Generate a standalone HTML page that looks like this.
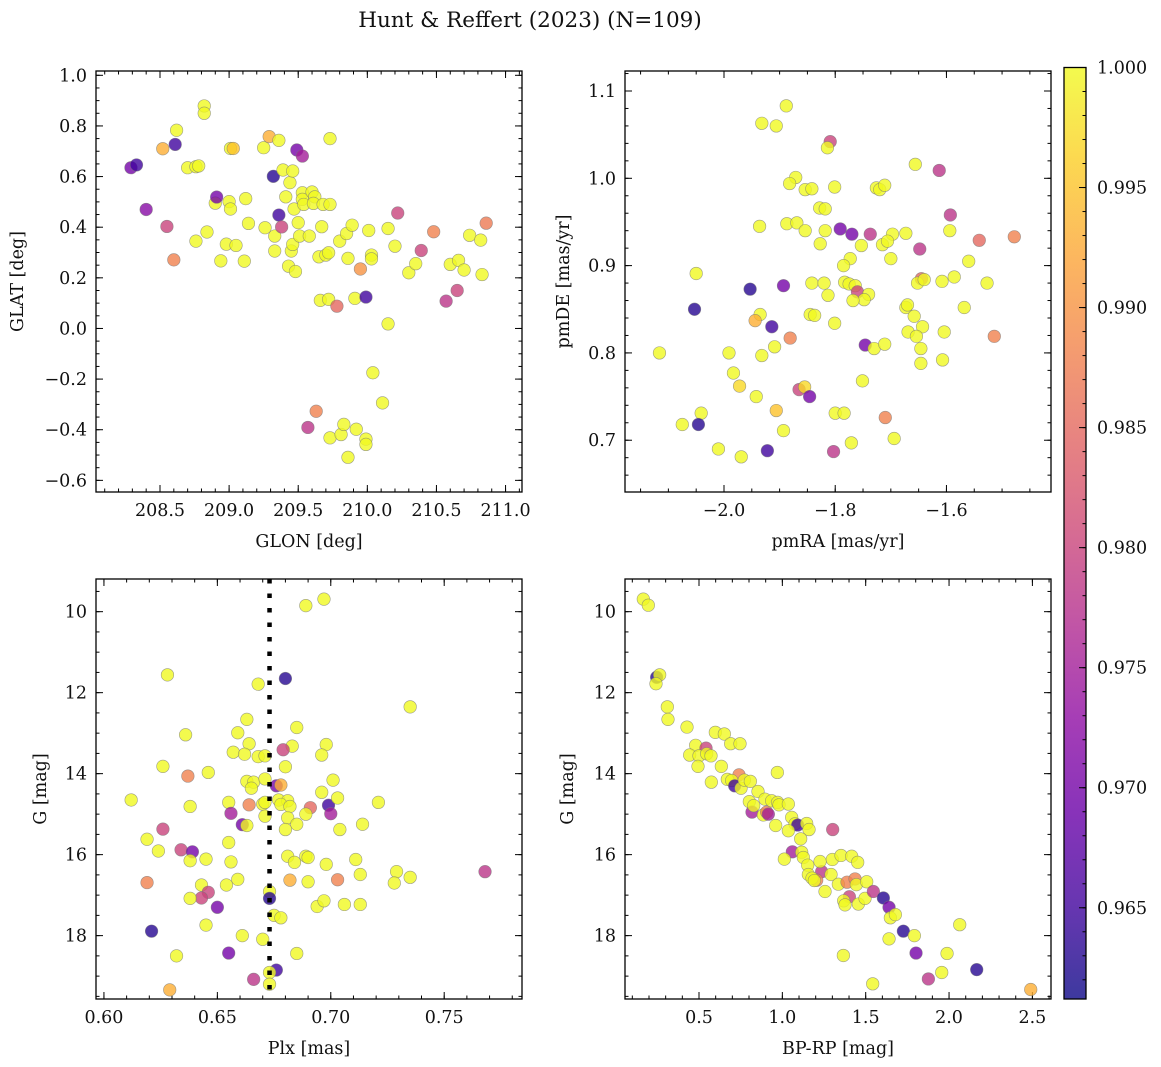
<!DOCTYPE html>
<html><head><meta charset="utf-8">
<style>
html,body{margin:0;padding:0;background:#fff;}
svg{display:block;font-family:"DejaVu Serif","Liberation Serif",serif;}
</style></head>
<body>
<svg id="fig" width="1161" height="1067" viewBox="0 0 1161 1067" xmlns="http://www.w3.org/2000/svg">
<defs>
<linearGradient id="plasmaGrad" x1="0" y1="1" x2="0" y2="0">
<stop offset="0" stop-color="#0d0887"/><stop offset="0.1" stop-color="#41049d"/><stop offset="0.2" stop-color="#6a00a8"/><stop offset="0.3" stop-color="#8f0da4"/><stop offset="0.4" stop-color="#b12a90"/><stop offset="0.5" stop-color="#cc4778"/><stop offset="0.6" stop-color="#e16462"/><stop offset="0.7" stop-color="#f2844b"/><stop offset="0.8" stop-color="#fca636"/><stop offset="0.9" stop-color="#fcce25"/><stop offset="1" stop-color="#f0f921"/>
</linearGradient>
</defs>
<text x="530" y="27" font-size="21.5" text-anchor="middle" fill="#111">Hunt &amp; Reffert (2023) (N=109)</text>
</svg>
<script>
// ---- Panel 1: GLON vs GLAT ----
const glon = [208.29,208.33,208.40,208.52,208.55,208.60,208.61,208.62,208.70,208.76,208.78,208.82,208.82,208.84,208.76,208.90,208.91,208.94,208.98,209.00,209.01,209.03,209.01,209.05,209.11,209.12,209.14,209.25,209.29,209.36,209.26,209.32,209.33,209.33,209.36,209.38,209.39,209.41,209.44,209.46,209.45,209.46,209.47,209.43,209.48,209.50,209.49,209.53,209.51,209.53,209.53,209.54,209.58,209.60,209.62,209.61,209.68,209.73,209.67,209.65,209.70,209.72,209.73,209.66,209.72,209.78,209.80,209.85,209.86,209.89,209.91,209.95,209.99,210.01,210.03,210.03,210.04,210.11,210.15,210.15,210.20,210.22,210.30,210.35,210.39,210.48,210.57,210.60,210.65,210.66,210.70,210.74,210.82,210.83,210.86,209.63,209.57,209.73,209.81,209.83,209.92,209.99,209.99,209.86];
const glat = [0.635,0.646,0.470,0.710,0.403,0.271,0.727,0.783,0.635,0.639,0.642,0.879,0.850,0.381,0.345,0.495,0.519,0.267,0.333,0.501,0.711,0.711,0.472,0.328,0.266,0.513,0.415,0.714,0.758,0.743,0.398,0.601,0.365,0.306,0.448,0.401,0.626,0.520,0.576,0.622,0.306,0.332,0.472,0.246,0.225,0.418,0.705,0.681,0.365,0.536,0.510,0.490,0.365,0.539,0.520,0.494,0.490,0.490,0.402,0.283,0.290,0.299,0.750,0.111,0.115,0.088,0.345,0.375,0.277,0.408,0.119,0.235,0.124,0.387,0.290,0.275,-0.175,-0.294,0.018,0.395,0.325,0.456,0.220,0.256,0.308,0.382,0.108,0.253,0.150,0.269,0.231,0.368,0.349,0.213,0.416,-0.327,-0.391,-0.432,-0.419,-0.379,-0.398,-0.437,-0.458,-0.509];
const prob1 = [0.970,0.965,0.972,0.993,0.980,0.988,0.965,1,1,1,1,1,1,1,1,1,0.970,1,1,1,1,0.995,1,1,1,1,1,1,0.993,1,1,0.963,1,1,0.965,0.980,1,1,1,1,1,1,1,1,1,1,0.970,0.975,1,1,1,1,1,1,1,1,1,1,1,1,1,1,1,1,1,0.985,1,1,1,1,1,0.990,0.965,1,1,1,1,1,1,1,1,0.980,1,1,0.980,0.988,0.978,1,0.980,1,1,1,1,1,0.987,0.988,0.978,1,1,1,1,1,1,1];

// ---- Panel 2: pmRA vs pmDE ----
const pmra = [-1.888,-1.932,-1.906,-1.809,-1.814,-1.656,-1.613,-1.871,-1.882,-1.854,-1.842,-1.801,-1.726,-1.720,-1.711,-1.828,-1.818,-1.593,-1.936,-1.887,-1.869,-1.854,-1.818,-1.791,-1.770,-1.737,-1.697,-1.673,-1.594,-1.541,-1.478,-1.827,-1.753,-1.715,-1.706,-1.648,-1.700,-1.773,-1.785,-1.560,-2.050,-1.953,-1.893,-1.842,-1.820,-1.783,-1.775,-1.764,-1.813,-1.760,-1.740,-1.748,-1.768,-1.645,-1.652,-1.640,-1.608,-1.586,-1.527,-2.053,-1.935,-1.944,-1.845,-1.837,-1.801,-1.673,-1.670,-1.658,-1.643,-1.568,-1.914,-1.881,-1.909,-1.932,-1.991,-2.116,-1.746,-1.730,-1.711,-1.669,-1.654,-1.604,-1.514,-1.646,-1.646,-1.607,-1.983,-1.972,-1.942,-1.865,-1.855,-1.846,-1.751,-2.041,-2.075,-2.046,-1.906,-1.893,-1.800,-1.784,-1.710,-1.694,-1.771,-2.010,-1.969,-1.922,-1.803];
const pmde = [1.083,1.063,1.060,1.042,1.035,1.016,1.009,1.001,0.994,0.987,0.988,0.990,0.989,0.987,0.992,0.966,0.965,0.958,0.945,0.948,0.949,0.940,0.940,0.942,0.936,0.936,0.936,0.937,0.940,0.929,0.933,0.925,0.923,0.924,0.928,0.919,0.908,0.908,0.900,0.905,0.891,0.873,0.877,0.880,0.880,0.881,0.879,0.877,0.866,0.870,0.867,0.861,0.860,0.885,0.880,0.884,0.882,0.887,0.880,0.850,0.844,0.837,0.844,0.843,0.834,0.852,0.855,0.842,0.830,0.852,0.830,0.817,0.807,0.797,0.800,0.800,0.809,0.805,0.810,0.824,0.819,0.824,0.819,0.805,0.788,0.792,0.777,0.762,0.750,0.758,0.761,0.750,0.768,0.731,0.718,0.718,0.734,0.711,0.731,0.731,0.726,0.702,0.697,0.690,0.681,0.688,0.687];
const prob2 = [1,1,1,0.980,1,1,0.978,1,1,1,1,1,1,1,1,1,1,0.978,1,1,1,1,1,0.970,0.970,0.978,1,1,1,0.985,0.988,1,1,1,1,0.978,1,1,1,1,1,0.963,0.970,1,1,1,1,1,1,0.980,1,1,1,0.985,1,1,1,1,1,0.963,1,0.993,1,1,1,1,1,1,1,1,0.965,0.988,1,1,1,1,0.970,1,1,1,1,1,0.988,1,1,1,1,0.997,1,0.980,0.997,0.970,1,1,1,0.963,0.995,1,1,1,0.988,1,1,1,1,0.965,0.978];

// ---- Panel 3: Plx vs G ----
const plx = [0.689,0.697,0.628,0.668,0.680,0.735,0.663,0.685,0.636,0.659,0.664,0.683,0.698,0.657,0.662,0.668,0.671,0.679,0.696,0.680,0.626,0.637,0.646,0.663,0.666,0.665,0.671,0.676,0.678,0.701,0.696,0.612,0.655,0.664,0.670,0.671,0.677,0.681,0.678,0.682,0.691,0.699,0.703,0.721,0.638,0.656,0.671,0.681,0.689,0.700,0.661,0.663,0.685,0.680,0.704,0.714,0.626,0.619,0.624,0.634,0.639,0.638,0.645,0.655,0.656,0.681,0.684,0.689,0.690,0.698,0.711,0.713,0.729,0.728,0.735,0.768,0.619,0.643,0.654,0.659,0.682,0.690,0.703,0.673,0.646,0.643,0.638,0.673,0.650,0.694,0.697,0.706,0.713,0.675,0.678,0.645,0.621,0.661,0.670,0.632,0.655,0.685,0.676,0.673,0.666,0.673,0.629];
const gmag3 = [9.85,9.69,11.56,11.79,11.65,12.35,12.66,12.86,13.04,12.99,13.26,13.32,13.28,13.47,13.52,13.58,13.56,13.41,13.54,13.83,13.82,14.06,13.97,14.19,14.21,14.36,14.13,14.30,14.28,14.16,14.46,14.65,14.71,14.77,14.75,14.71,14.65,14.67,14.76,14.81,14.84,14.78,14.60,14.71,14.81,14.98,15.05,15.09,15.00,14.99,15.26,15.28,15.25,15.38,15.38,15.25,15.37,15.62,15.91,15.88,15.93,16.15,16.11,15.70,16.18,16.04,16.19,16.04,16.07,16.24,16.12,16.49,16.42,16.70,16.56,16.42,16.69,16.75,16.75,16.61,16.63,16.67,16.62,16.91,16.93,17.07,17.08,17.08,17.30,17.28,17.14,17.23,17.23,17.50,17.56,17.74,17.89,18.00,18.09,18.50,18.43,18.44,18.85,18.91,19.08,19.20,19.34];
const prob3 = [1,1,1,1,0.963,1,1,1,1,1,1,1,1,1,1,1,1,0.980,1,1,1,0.988,1,1,1,1,1,0.970,0.993,1,1,1,1,0.988,1,1,1,1,1,1,0.985,0.965,1,1,1,0.975,1,1,1,0.975,0.970,1,1,1,1,1,0.980,1,1,0.980,0.970,1,1,1,1,1,1,1,1,1,1,1,1,1,1,0.978,0.988,1,1,1,0.993,1,0.988,1,0.980,0.980,1,0.963,0.970,1,1,1,1,1,1,1,0.963,1,1,1,0.970,1,0.965,1,0.978,1,0.993];
const plxCut = [0.673];

// ---- Panel 4: BP-RP vs G ----
const bprp = [0.166,0.196,0.246,0.264,0.242,0.310,0.314,0.428,0.598,0.652,0.690,0.746,0.480,0.542,0.444,0.500,0.546,0.572,0.494,0.634,0.574,0.670,0.740,0.696,0.714,0.752,0.772,0.808,0.854,0.802,0.818,0.828,0.886,0.906,0.916,0.896,0.936,0.972,0.980,1.036,0.970,0.960,1.056,1.076,1.092,1.146,1.160,1.036,1.110,1.060,1.116,1.126,1.012,1.152,1.236,1.302,1.226,1.300,1.352,1.416,1.452,1.156,1.206,1.178,1.192,1.292,1.336,1.388,1.436,1.444,1.506,1.256,1.402,1.368,1.376,1.456,1.496,1.546,1.606,1.640,1.648,1.678,1.726,1.792,1.640,1.366,1.802,1.988,2.064,1.956,1.876,2.166,1.542,2.490];
const gmag4 = [9.69,9.84,11.62,11.56,11.78,12.35,12.66,12.85,12.98,13.02,13.26,13.26,13.30,13.37,13.54,13.56,13.51,13.56,13.82,13.82,14.21,14.14,14.03,14.17,14.30,14.36,14.16,14.19,14.44,14.69,14.95,14.79,15.02,14.95,15.00,14.63,14.67,14.71,14.77,14.75,13.97,15.28,15.08,15.24,15.27,15.23,15.38,15.41,15.61,15.93,15.94,16.07,16.11,16.26,16.42,15.38,16.17,16.12,16.02,16.04,16.19,16.49,16.63,16.58,16.64,16.49,16.73,16.68,16.60,16.74,16.67,16.91,17.04,17.14,17.24,17.22,17.08,16.91,17.07,17.30,17.56,17.48,17.89,18.00,18.08,18.49,18.43,18.44,17.73,18.91,19.07,18.84,19.19,19.33];
const prob4 = [1,1,0.963,1,1,1,1,1,1,1,1,1,1,0.980,1,1,1,1,1,1,1,1,0.988,1,0.965,1,1,1,1,1,0.975,1,1,0.988,0.975,1,1,1,1,1,1,1,1,1,0.965,1,1,1,1,0.975,1,1,1,1,0.978,0.980,1,1,1,1,1,1,0.988,1,1,1,1,0.988,0.988,1,1,1,0.980,1,1,1,1,0.978,0.963,0.970,1,1,0.963,1,1,1,0.970,1,1,1,0.978,0.963,1,0.993];

// ---- Colorbar ----
const cbarTicks = [0.965,0.970,0.975,0.980,0.985,0.990,0.995,1.000];
const cbarRange = [0.9612,1.0];

const NS = 'http://www.w3.org/2000/svg';
const svg = document.getElementById('fig');
function mk(tag, attrs, parent){
  const e = document.createElementNS(NS, tag);
  for (const k in attrs) e.setAttribute(k, attrs[k]);
  (parent||svg).appendChild(e);
  return e;
}
const stops = ['#0d0887','#41049d','#6a00a8','#8f0da4','#b12a90','#cc4778','#e16462','#f2844b','#fca636','#fcce25','#f0f921'];
function hex(c){return [parseInt(c.slice(1,3),16),parseInt(c.slice(3,5),16),parseInt(c.slice(5,7),16)];}
function plasma(p){
  let t = (p - cbarRange[0])/(cbarRange[1]-cbarRange[0]);
  t = Math.max(0, Math.min(1, t));
  const f = t*10, i = Math.min(9, Math.floor(f)), r = f - i;
  const a = hex(stops[i]), b = hex(stops[i+1]);
  return 'rgb(' + a.map((v,k)=>Math.round(v+(b[k]-v)*r)).join(',') + ')';
}
function fmt(v, d){ const s = Math.abs(v).toFixed(d); return (v < -1e-9 ? '\u2212' : '') + s; }

function panel(cfg){
  const {name, L, R, T, B, xd, yd, xMaj, xMin, yMaj, yMin, xDec, yDec, xlabel, ylabel, ylabelX} = cfg;
  const g = mk('g', {});
  
  
  const sx = v => L + (v - xd[0])/(xd[1]-xd[0])*(R-L);
  const sy = v => B - (v - yd[0])/(yd[1]-yd[0])*(B-T);
  const tk = mk('g', {stroke:'#000','stroke-width':1}, g);
  
  
  function xt(list, len){ list.forEach(v => { const x = sx(v); if (x < L-0.5 || x > R+0.5) return;
    mk('line',{x1:x,x2:x,y1:B,y2:B-len},tk); mk('line',{x1:x,x2:x,y1:T,y2:T+len},tk); }); }
  function yt(list, len){ list.forEach(v => { const y = sy(v); if (y < T-0.5 || y > B+0.5) return;
    mk('line',{x1:L,x2:L+len,y1:y,y2:y},tk); mk('line',{x1:R,x2:R-len,y1:y,y2:y},tk); }); }
  const xmins=[], ymins=[];
  const ylo = Math.min(yd[0],yd[1]), yhi = Math.max(yd[0],yd[1]);
  for (let v = Math.ceil(xd[0]/xMin)*xMin; v <= xd[1]; v += xMin) xmins.push(v);
  for (let v = Math.ceil(ylo/yMin)*yMin; v <= yhi; v += yMin) ymins.push(v);
  xt(xmins, 3.5); yt(ymins, 3.5); xt(xMaj, 7); yt(yMaj, 7);
  xMaj.forEach(v => {
    const t = mk('text',{x:sx(v), y:B+24, 'font-size':17.5, 'text-anchor':'middle', fill:'#111'}, g);
    
    
    t.textContent = fmt(v, xDec);
  });
  yMaj.forEach(v => {
    const t = mk('text',{x:L-9, y:sy(v)+6, 'font-size':17.5, 'text-anchor':'end', fill:'#111'}, g);
    
    
    t.textContent = fmt(v, yDec);
  });
  const xl = mk('text',{x:(L+R)/2, y:B+55, 'font-size':17.5, 'text-anchor':'middle', fill:'#111'}, g);
  
  
  xl.textContent = xlabel;
  const ym = (T+B)/2;
  const yl = mk('text',{x:ylabelX, y:ym, 'font-size':17.5, 'text-anchor':'middle', fill:'#111', transform:'rotate(-90 '+ylabelX+' '+ym+')'}, g);
  
  
  yl.textContent = ylabel;
  return {g, sx, sy};
}
function scatter(p, xs, ys, ps, name){
  const grp = mk('g', {}, p.g);
  
  
  for (let i = 0; i < xs.length; i++){
    const c = mk('circle', {cx:p.sx(xs[i]), cy:p.sy(ys[i]), r:6.3, fill:plasma(ps[i]), 'fill-opacity':0.8, stroke:'#777', 'stroke-width':0.6, 'stroke-opacity':0.7}, grp);
    
    
  }
}
function frame(p, L, R, T, B, name){
  const f = mk('rect',{x:L,y:T,width:R-L,height:B-T,fill:'none',stroke:'#000','stroke-width':1.3}, p.g);
  
  
}

let P = panel({name:'glon-glat-panel', L:96, R:522, T:71, B:492, xd:[208.037,211.119], yd:[-0.646,1.017],
  xMaj:[208.5,209.0,209.5,210.0,210.5,211.0], xMin:0.1, yMaj:[-0.6,-0.4,-0.2,0.0,0.2,0.4,0.6,0.8,1.0], yMin:0.05,
  xDec:1, yDec:1, xlabel:'GLON [deg]', ylabel:'GLAT [deg]', ylabelX:23});
scatter(P, glon, glat, prob1, 'glon-glat');
frame(P,96,522,71,492,'glon-glat');

P = panel({name:'pm-panel', L:625, R:1051, T:71, B:492, xd:[-2.178,-1.412], yd:[0.6407,1.1229],
  xMaj:[-2.0,-1.8,-1.6], xMin:0.05, yMaj:[0.7,0.8,0.9,1.0,1.1], yMin:0.02,
  xDec:1, yDec:1, xlabel:'pmRA [mas/yr]', ylabel:'pmDE [mas/yr]', ylabelX:569});
scatter(P, pmra, pmde, prob2, 'pm');
frame(P,625,1051,71,492,'pm');

P = panel({name:'plx-g-panel', L:96, R:522, T:579, B:999, xd:[0.5965,0.7843], yd:[19.565,9.193],
  xMaj:[0.60,0.65,0.70,0.75], xMin:0.01, yMaj:[10,12,14,16,18], yMin:0.5,
  xDec:2, yDec:0, xlabel:'Plx [mas]', ylabel:'G [mag]', ylabelX:46});
scatter(P, plx, gmag3, prob3, 'plx-g');
plxCut.forEach(v => {
  const ln = mk('line',{x1:P.sx(v),x2:P.sx(v),y1:579,y2:999,stroke:'#000','stroke-width':4.5,'stroke-dasharray':'4.5 10'}, P.g);
  
  
});
frame(P,96,522,579,999,'plx-g');

let P4 = panel({name:'cmd-panel', L:625, R:1051, T:579, B:999, xd:[0.0561,2.6116], yd:[19.565,9.193],
  xMaj:[0.5,1.0,1.5,2.0,2.5], xMin:0.1, yMaj:[10,12,14,16,18], yMin:0.5,
  xDec:1, yDec:0, xlabel:'BP-RP [mag]', ylabel:'G [mag]', ylabelX:573});
scatter(P4, bprp, gmag4, prob4, 'cmd');
frame(P4,625,1051,579,999,'cmd');

// Colorbar
const cb = mk('g', {});


const cT = 67.5, cB = 999, cL = 1064, cR = 1086;
const cy = v => cB - (v - cbarRange[0])/(cbarRange[1]-cbarRange[0])*(cB-cT);
const cr = mk('rect',{x:cL,y:cT,width:cR-cL,height:cB-cT,fill:'url(#plasmaGrad)','fill-opacity':0.8}, cb);


mk('rect',{x:cL,y:cT,width:cR-cL,height:cB-cT,fill:'none',stroke:'#000','stroke-width':1.3}, cb);
for (let v = 0.962; v < 1.0; v += 0.001){
  const y = cy(v);
  mk('line',{x1:cR,x2:cR-3.5,y1:y,y2:y,stroke:'#000','stroke-width':1}, cb);
}
cbarTicks.forEach(v => {
  const y = cy(v);
  mk('line',{x1:cR,x2:cR-7,y1:y,y2:y,stroke:'#000','stroke-width':1}, cb);
  const t = mk('text',{x:1097, y:y+6, 'font-size':17.5, fill:'#111'}, cb);
  
  
  t.textContent = v.toFixed(3);
});
</script>
</body></html>
